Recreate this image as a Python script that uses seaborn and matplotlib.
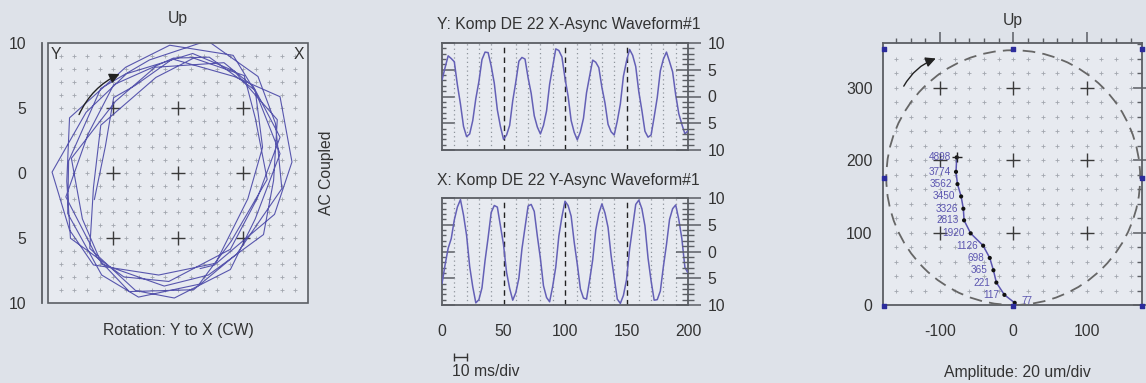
import numpy as np
import pandas as pd
import matplotlib
matplotlib.use("Agg")
import matplotlib.pyplot as plt
import matplotlib.transforms as mtransforms
import seaborn as sns
from matplotlib.patches import Ellipse, Rectangle
from matplotlib.ticker import FixedLocator, FixedFormatter, MultipleLocator, NullFormatter

# ---------------- data ----------------
time_ms = np.arange(0, 200.1, 2.5)  # sample times, 0..200 ms

y_wave = [3.1, 5.4, 7.6, 7.1, 6.5, 2.2, -1.4, -5.6, -7.5, -7.0,
          -4.5, -0.4, 2.8, 6.9, 8.3, 8.2, 5.7, 2.5, -2.5, -5.6,
          -8.0, -7.2, -5.4, -0.8, 2.7, 6.6, 7.3, 7.0, 3.5, 0.6,
          -3.6, -5.7, -7.0, -5.4, -2.7, 2.3, 5.6, 8.9, 8.6, 7.4,
          3.4, 0.1, -4.5, -6.7, -8.1, -6.6, -4.1, 0.7, 3.8, 6.8,
          6.4, 5.4, 1.7, -1.2, -5.2, -6.6, -7.2, -4.6, -1.4, 3.8,
          6.6, 8.8, 7.7, 5.6, 0.9, -2.6, -6.5, -7.6, -7.2, -3.8,
          -0.2, 4.8, 7.0, 8.3, 6.5, 4.6, 0.3, -3.2, -5.2, -7.0, -6.4]

x_wave = [-6.0, -2.5, 0.6, 2.4, 5.9, 8.3, 9.7, 6.8, 3.0, -2.8,
          -6.6, -9.6, -9.0, -6.8, -1.7, 2.6, 7.3, 8.6, 8.3, 4.8,
          1.3, -3.9, -6.9, -9.1, -7.7, -5.0, 0.5, 4.5, 8.5, 8.8,
          7.5, 2.9, -1.3, -6.4, -8.6, -9.4, -6.5, -2.9, 2.9, 6.5,
          9.4, 8.6, 6.6, 1.7, -2.4, -7.0, -8.7, -8.9, -5.4, -1.6,
          4.0, 7.1, 8.9, 7.2, 4.5, -0.8, -4.9, -8.9, -9.7, -8.2,
          -5.3, 0.4, 4.6, 8.8, 9.6, 8.0, 4.8, -1.2, -5.5, -9.1,
          -9.0, -7.4, -2.8, 1.3, 6.0, 8.0, 8.7, 6.0, 2.4, -3.0, -4.0]

orbit_ticks = [-10, -5, 0, 5, 10]
orbit_ticklabels = ["10", "5", "0", "5", "10"]
wave_ticks = [-10, -5, 0, 5, 10]
wave_ticklabels = ["10", "5", "0", "5", "10"]
time_ticks = [0, 50, 100, 150, 200]
time_ticklabels = ["0", "50", "100", "150", "200"]

polar_rpm = ["77", "117", "221", "365", "698", "1126", "1920", "2813",
             "3326", "3450", "3562", "3774", "4898"]
polar_x = [2, -12, -23, -27, -32, -41, -58, -67, -68, -71, -76, -78, -77]
polar_y = [3, 14, 31, 48, 65, 82, 99, 117, 133, 150, 167, 184, 204]
polar_xticks = [-100, 0, 100]
polar_xticklabels = ["-100", "0", "100"]
polar_yticks = [0, 100, 200, 300]
polar_yticklabels = ["0", "100", "200", "300"]

# orbit built from the two probe waveforms (probes at +/-45 deg)
xw = np.array(x_wave)
yw = np.array(y_wave)
orbit_h = (xw - yw) / np.sqrt(2)
orbit_v = (xw + yw) / np.sqrt(2)

# ---------------- style ----------------
sns.set_style("white")
plt.rcParams['font.family'] = ['Liberation Sans', 'DejaVu Sans']
plt.rcParams['font.size'] = 11.3

W, H = 1146, 383
BG = '#dee2e9'
PANEL = '#e7eaf0'
FRAME = '#5b5e64'
TXT = '#333333'
WAVE = '#6460b6'
ORBIT = '#4846a6'
GRIDC = '#a2a7af'
FS = 11.3

fig = plt.figure(figsize=(W / 100, H / 100), dpi=100, facecolor=BG)


def add_px(x0, y0, x1, y1):
    return fig.add_axes([x0 / W, 1 - y1 / H, (x1 - x0) / W, (y1 - y0) / H])


def ftext(x, y, s, **kw):
    kw.setdefault('fontsize', FS)
    kw.setdefault('color', TXT)
    fig.text(x / W, 1 - y / H, s, **kw)


# ---------------- orbit panel ----------------
ax1 = add_px(48, 43, 308, 303)
ax1.set_facecolor(PANEL)
ax1.set_xlim(-10, 10)
ax1.set_ylim(-10, 10)
g = np.arange(-9, 10)
gx, gy = np.meshgrid(g, g)
ax1.scatter(gx.ravel(), gy.ravel(), marker='+', s=7, c=GRIDC, linewidths=0.6, zorder=1)
cx, cy = np.meshgrid([-5, 0, 5], [-5, 0, 5])
ax1.scatter(cx.ravel(), cy.ravel(), marker='+', s=90, c='#3a3a3a', linewidths=1.0, zorder=2)
sns.lineplot(x=orbit_h, y=orbit_v, sort=False, estimator=None, ax=ax1,
             color=ORBIT, lw=0.8, alpha=0.9, zorder=3)
for s in ['top', 'right', 'bottom']:
    ax1.spines[s].set_visible(False)
ax1.spines['left'].set_position(('outward', 4))
ax1.spines['left'].set_color(FRAME)
ax1.spines['left'].set_linewidth(1.3)
ax1.add_patch(Rectangle((0, 0), 1, 1, transform=ax1.transAxes, fill=False,
                        ec=FRAME, lw=1.2, zorder=5, clip_on=False))
ax1.set_xticks([])
ax1.yaxis.set_major_locator(FixedLocator(orbit_ticks))
ax1.yaxis.set_major_formatter(FixedFormatter(orbit_ticklabels))
ax1.yaxis.set_minor_locator(MultipleLocator(1))
ax1.tick_params(axis='y', which='major', direction='out', length=8.5, width=1.1,
                color=FRAME, labelsize=FS, labelcolor=TXT, pad=3)
ax1.tick_params(axis='y', which='minor', direction='out', length=4.3, width=1.0, color=FRAME)
ax1.set_xlabel('')
ax1.set_ylabel('')
ax1.text(0.012, 0.985, 'Y', transform=ax1.transAxes, ha='left', va='top', fontsize=FS, color=TXT)
ax1.text(0.985, 0.985, 'X', transform=ax1.transAxes, ha='right', va='top', fontsize=FS, color=TXT)
ax1.annotate('', xy=(-4.3, 7.7), xytext=(-7.7, 4.3),
             arrowprops=dict(arrowstyle='-|>', color='#222222', lw=1.0,
                             connectionstyle='arc3,rad=-0.2', mutation_scale=15), zorder=6)
ftext(178, 18, 'Up', ha='center', va='center')
ftext(178, 330, 'Rotation: Y to X (CW)', ha='center', va='center')
ftext(327, 173, 'AC Coupled', ha='center', va='center', rotation=90)

# ---------------- waveform panels ----------------


def wave_panel(y0, y1, values, title, show_xlabels):
    ax = add_px(442, y0, 688, y1)
    ax.set_facecolor(PANEL)
    ax.set_xlim(0, 200)
    ax.set_ylim(-10, 10)
    for t in range(10, 200, 10):
        if t % 50 == 0:
            ax.axvline(t, color='#222222', lw=1.0, ls=(0, (4, 3)), zorder=2)
        else:
            ax.axvline(t, color='#8e949c', lw=0.9, ls=(0, (1, 2.5)), zorder=1)
    sns.lineplot(x=time_ms, y=values, ax=ax, color=WAVE, lw=1.1, zorder=3)
    for s in ax.spines.values():
        s.set_color(FRAME)
        s.set_linewidth(1.3)
    ax.xaxis.set_major_locator(FixedLocator(time_ticks))
    ax.xaxis.set_minor_locator(MultipleLocator(10))
    if show_xlabels:
        ax.xaxis.set_major_formatter(FixedFormatter(time_ticklabels))
    else:
        ax.xaxis.set_major_formatter(NullFormatter())
    ax.tick_params(axis='x', which='major', direction='out', length=8, width=1.1,
                   color=FRAME, labelsize=FS, labelcolor=TXT, pad=6, top=False)
    ax.tick_params(axis='x', which='minor', direction='out', length=4.3, width=1.0,
                   color=FRAME, top=False)
    ax.yaxis.set_major_locator(FixedLocator(wave_ticks))
    ax.yaxis.set_minor_locator(MultipleLocator(1))
    ax.yaxis.set_major_formatter(NullFormatter())
    ax.tick_params(axis='y', which='major', direction='in', length=9, width=1.1, color=FRAME)
    ax.tick_params(axis='y', which='minor', direction='in', length=3, width=1.0, color=FRAME)
    ax.set_xlabel('')
    ax.set_ylabel('')
    ax2 = ax.twinx()
    ax2.set_ylim(-10, 10)
    ax2.yaxis.set_major_locator(FixedLocator(wave_ticks))
    ax2.yaxis.set_major_formatter(FixedFormatter(wave_ticklabels))
    ax2.yaxis.set_minor_locator(MultipleLocator(1))
    ax2.tick_params(axis='y', which='major', direction='inout', length=18, width=1.1,
                    color=FRAME, labelsize=FS, labelcolor=TXT, pad=5)
    ax2.tick_params(axis='y', which='minor', direction='inout', length=8.5, width=1.0,
                    color=FRAME)
    for s in ax2.spines.values():
        s.set_visible(False)
    ftext(437, y0 - 18, title, ha='left', va='center')
    return ax


axw1 = wave_panel(43, 150, y_wave, 'Y: Komp DE 22 X-Async Waveform#1', False)
axw2 = wave_panel(198, 305, x_wave, 'X: Komp DE 22 Y-Async Waveform#1', True)
# 10 ms/div scale bar
tr = mtransforms.blended_transform_factory(axw2.transData, axw2.transAxes)
axw2.plot([10, 20], [-0.49, -0.49], transform=tr, color='#333333', lw=1.0,
          clip_on=False, marker='|', markersize=6, markeredgewidth=1.0)
ftext(452, 372, '10 ms/div', ha='left', va='center')

# ---------------- polar panel ----------------
ax4 = add_px(883, 43, 1142, 305)
ax4.set_facecolor(PANEL)
ax4.set_xlim(-177.5, 175.5)
ax4.set_ylim(0, 362)
pgx, pgy = np.meshgrid(np.arange(-160, 161, 20), np.arange(20, 341, 20))
ax4.scatter(pgx.ravel(), pgy.ravel(), marker='+', s=6, c=GRIDC, linewidths=0.6, zorder=1)
pcx, pcy = np.meshgrid([-100, 0, 100], [100, 200, 300])
ax4.scatter(pcx.ravel(), pcy.ravel(), marker='+', s=90, c='#3a3a3a', linewidths=1.0, zorder=2)
ax4.add_patch(Ellipse((0, 176), 346, 352, fill=False, ec='#666666', lw=1.3,
                      ls=(0, (7, 4)), zorder=3))
bx, by = np.meshgrid([-176, 0, 176], [-2, 176, 354])
mask = ~((bx == 0) & (by == 176))
ax4.scatter(bx[mask], by[mask], marker='s', s=9, c='#2c2c9c', zorder=6, clip_on=False)
sns.lineplot(x=polar_x, y=polar_y, sort=False, estimator=None, ax=ax4,
             color='#5b55b0', lw=1.1, zorder=4)
sns.scatterplot(x=polar_x, y=polar_y, ax=ax4, color='#111111', s=9, zorder=5,
                edgecolor='none')
ax4.scatter([polar_x[-1]], [polar_y[-1]], marker='+', s=60, c='#222222', linewidths=1.0, zorder=6)
for px_, py_, lab in zip(polar_x, polar_y, polar_rpm):
    if lab == "77":
        ax4.annotate(lab, (px_, py_), xytext=(5, 1), textcoords='offset points',
                     ha='left', va='center', fontsize=7.2, color='#5b55b0')
    else:
        ax4.annotate(lab, (px_, py_), xytext=(-4, 0), textcoords='offset points',
                     ha='right', va='center', fontsize=7.2, color='#5b55b0')
for s in ax4.spines.values():
    s.set_color(FRAME)
    s.set_linewidth(1.3)
ax4.xaxis.set_major_locator(FixedLocator(polar_xticks))
ax4.xaxis.set_major_formatter(FixedFormatter(polar_xticklabels))
ax4.xaxis.set_minor_locator(MultipleLocator(20))
ax4.yaxis.set_major_locator(FixedLocator(polar_yticks))
ax4.yaxis.set_major_formatter(FixedFormatter(polar_yticklabels))
ax4.yaxis.set_minor_locator(MultipleLocator(20))
ax4.tick_params(axis='x', which='major', direction='out', length=8, width=1.1,
                color=FRAME, labelsize=FS, labelcolor=TXT, pad=6, top=True)
ax4.tick_params(axis='x', which='minor', direction='out', length=3.6, width=1.0,
                color=FRAME, top=True)
ax4.tick_params(axis='y', which='major', direction='inout', length=13, width=1.1,
                color=FRAME, labelsize=FS, labelcolor=TXT, pad=1, right=True)
ax4.tick_params(axis='y', which='minor', direction='in', length=3.6, width=1.0,
                color=FRAME, right=True)
ax4.set_xlabel('')
ax4.set_ylabel('')
ax4.annotate('', xy=(-102, 342), xytext=(-151, 299),
             arrowprops=dict(arrowstyle='-|>', color='#222222', lw=1.0,
                             connectionstyle='arc3,rad=-0.2', mutation_scale=15), zorder=6)
ftext(1013, 20, 'Up', ha='center', va='center')
ftext(1017, 373, 'Amplitude: 20 um/div', ha='center', va='center')

fig.savefig('out.png', dpi=100, facecolor=BG)
